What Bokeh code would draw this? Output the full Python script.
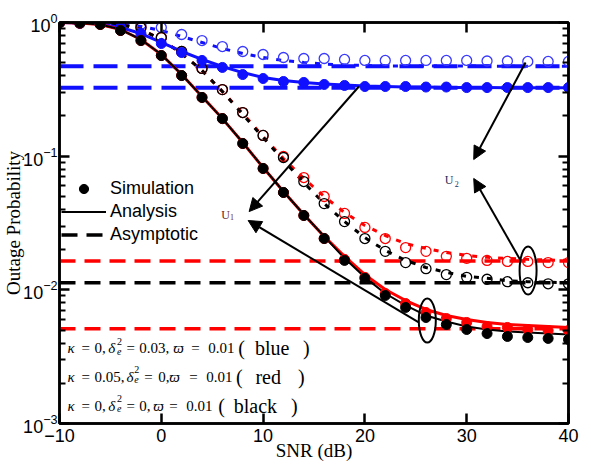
from bokeh.plotting import figure
from bokeh.models import (FixedTicker, LogAxis, LinearAxis, Label, Arrow, NormalHead,
                          Legend, LegendItem)
from bokeh.embed import file_html
from bokeh.resources import INLINE

# ---------------- data ----------------
snr = [-10, -8, -6, -4, -2, 0, 2, 4, 6, 8, 10, 12, 14, 16, 18, 20, 22, 24, 26, 28, 30, 32, 34, 36, 38, 40]

# blue (kappa=0, delta^2=0.03)
blue_sim_u1 = [1.0, 0.991, 0.983, 0.918, 0.827, 0.696, 0.596, 0.520, 0.461, 0.408, 0.381, 0.362, 0.356,
               0.344, 0.338, 0.332, 0.332, 0.332, 0.329, 0.329, 0.326, 0.326, 0.326, 0.326, 0.326, 0.326]
blue_ana_u1 = [1.0, 0.991, 0.974, 0.918, 0.827, 0.709, 0.607, 0.529, 0.469, 0.422, 0.388, 0.368, 0.356,
               0.347, 0.341, 0.335, 0.332, 0.329, 0.329, 0.326, 0.326, 0.326, 0.325, 0.325, 0.325, 0.325]
blue_sim_u2 = [1.0, 0.991, 0.983, 0.983, 0.966, 0.918, 0.813, 0.733, 0.661, 0.607, 0.576, 0.547, 0.538,
               0.538, 0.529, 0.520, 0.520, 0.520, 0.520, 0.520, 0.520, 0.515, 0.515, 0.511, 0.511, 0.511]
blue_ana_u2 = [1.0, 1.0, 0.991, 0.974, 0.934, 0.871, 0.786, 0.709, 0.639, 0.586, 0.547, 0.520, 0.502,
               0.489, 0.481, 0.477, 0.473, 0.473, 0.473, 0.473, 0.472, 0.472, 0.471, 0.471, 0.471, 0.471]

# red (kappa=0.05, delta^2=0)
red_sim_u1 = [1.0, 0.991, 0.966, 0.871, 0.733, 0.566, 0.401, 0.275, 0.191, 0.1244, 0.0809, 0.0535, 0.0360,
              0.0242, 0.0169, 0.0124, 0.00939, 0.00790, 0.00677, 0.00610, 0.00570, 0.00532, 0.00523,
              0.00505, 0.00496, 0.00496]
red_ana_u1 = [1.0, 0.991, 0.966, 0.886, 0.746, 0.576, 0.408, 0.279, 0.191, 0.1265, 0.0823, 0.0544, 0.0366,
              0.0251, 0.0178, 0.0130, 0.01006, 0.00832, 0.00713, 0.00643, 0.00600, 0.00570, 0.00550,
              0.00541, 0.00532, 0.00523]
red_sim_u2 = [1.0, 0.991, 0.983, 0.983, 0.918, 0.772, 0.607, 0.453, 0.315, 0.212, 0.143, 0.0994, 0.0692,
              0.0499, 0.0373, 0.0293, 0.0242, 0.0207, 0.0194, 0.0178, 0.0172, 0.0166, 0.0163, 0.0163,
              0.0160, 0.0160]
red_ana_u2 = [1.0, 0.991, 0.983, 0.966, 0.886, 0.746, 0.586, 0.437, 0.305, 0.209, 0.140, 0.0960, 0.0681,
              0.0499, 0.0379, 0.0303, 0.0255, 0.0222, 0.0204, 0.0190, 0.0181, 0.0175, 0.0172, 0.0169,
              0.0167, 0.0166]

# black (kappa=0, delta^2=0)
black_sim_u1 = [1.0, 0.991, 0.966, 0.871, 0.733, 0.566, 0.401, 0.275, 0.191, 0.1244, 0.0809, 0.0535, 0.0360,
                0.0242, 0.0166, 0.0122, 0.00907, 0.00738, 0.00621, 0.00550, 0.00505, 0.00471, 0.00448,
                0.00440, 0.00433, 0.00425]
black_ana_u1 = [1.0, 0.991, 0.966, 0.886, 0.746, 0.576, 0.408, 0.279, 0.191, 0.1265, 0.0823, 0.0544, 0.0366,
                0.0251, 0.0172, 0.0124, 0.00939, 0.00764, 0.00643, 0.00580, 0.00532, 0.00505, 0.00488,
                0.00480, 0.00471, 0.00463]
black_sim_u2 = [1.0, 0.991, 0.983, 0.983, 0.918, 0.772, 0.607, 0.453, 0.315, 0.212, 0.143, 0.0977, 0.0646,
                0.0442, 0.0324, 0.0242, 0.0194, 0.0160, 0.0144, 0.0130, 0.0124, 0.0120, 0.0115, 0.0113,
                0.0111, 0.0111]
black_ana_u2 = [1.0, 0.991, 0.983, 0.966, 0.886, 0.746, 0.586, 0.437, 0.305, 0.205, 0.138, 0.0928, 0.0635,
                0.0442, 0.0324, 0.0246, 0.0197, 0.0166, 0.0147, 0.0135, 0.0126, 0.0122, 0.0117, 0.0115,
                0.0114, 0.0113]

# asymptotes
asym_x = [-10, 40]
asym_blue_u2 = 0.471
asym_blue_u1 = 0.325
asym_red_u2 = 0.0164
asym_black_u2 = 0.0113
asym_red_u1 = 0.00511

x_ticks = [-10, 0, 10, 20, 30, 40]
y_ticks = [1e-3, 1e-2, 1e-1, 1.0]
y_minor = [m * 10.0 ** e for e in (-3, -2, -1) for m in range(2, 10)]

BLUE = "#1010ff"
RED = "#ff0000"
BLACK = "#000000"

# ---------------- figure ----------------
p = figure(width=591, height=466, y_axis_type="log", x_range=(-10, 40), y_range=(1e-3, 1.0),
           output_backend="svg", toolbar_location=None,
           min_border_left=58, min_border_right=23, min_border_top=22, min_border_bottom=43)
p.grid.visible = False
p.outline_line_color = "black"
p.outline_line_width = 2.5
p.background_fill_color = "white"
p.border_fill_color = "white"

def style_axis(ax, labels=True):
    ax.axis_line_width = 2.5
    ax.axis_line_color = "black"
    ax.major_tick_in = 10
    ax.major_tick_out = 0
    ax.major_tick_line_width = 2.5
    ax.minor_tick_in = 6
    ax.minor_tick_out = 0
    ax.minor_tick_line_width = 2
    ax.major_label_text_font = "Liberation Sans"
    if labels:
        ax.major_label_text_font_size = "18px"
        ax.major_label_text_color = "black"
    else:
        ax.major_label_text_font_size = "1px"
        ax.major_label_text_color = None
        ax.major_label_standoff = 0

xt = FixedTicker(ticks=x_ticks)
yt = FixedTicker(ticks=y_ticks, minor_ticks=y_minor)

p.xaxis.ticker = xt
p.yaxis.ticker = yt
for ax in p.xaxis:
    style_axis(ax)
    ax.minor_tick_line_color = None
    ax.major_label_standoff = 5
    ax.axis_label = "SNR (dB)"
    ax.axis_label_text_font = "Liberation Serif"
    ax.axis_label_text_font_size = "19px"
    ax.axis_label_text_font_style = "normal"
    ax.axis_label_text_color = "black"
    ax.axis_label_standoff = -5
for ax in p.yaxis:
    style_axis(ax)
    ax.major_label_standoff = 2
    ax.axis_label = "Outage Probability"
    ax.axis_label_text_font = "Liberation Serif"
    ax.axis_label_text_font_size = "19px"
    ax.axis_label_text_font_style = "normal"
    ax.axis_label_text_color = "black"
    ax.axis_label_standoff = -4

top = LinearAxis(ticker=FixedTicker(ticks=x_ticks))
style_axis(top, labels=False)
top.minor_tick_line_color = None
p.add_layout(top, "above")
right = LogAxis(ticker=FixedTicker(ticks=y_ticks, minor_ticks=y_minor))
style_axis(right, labels=False)
p.add_layout(right, "right")

# asymptotes
p.line(asym_x, [asym_blue_u2] * 2, line_color=BLUE, line_width=4, line_dash="24 10")
p.line(asym_x, [asym_blue_u1] * 2, line_color=BLUE, line_width=4, line_dash="24 10")
p.line(asym_x, [asym_red_u2] * 2, line_color=RED, line_width=3.5, line_dash="16 9")
p.line(asym_x, [asym_red_u1] * 2, line_color=RED, line_width=3.5, line_dash="16 9")
asym_black = p.line(asym_x, [asym_black_u2] * 2, line_color=BLACK, line_width=3.5, line_dash="16 9")

# analysis lines
p.line(snr, blue_ana_u2, line_color=BLUE, line_width=3, line_dash="5 8")
p.line(snr, red_ana_u2, line_color=RED, line_width=3, line_dash="5 8")
p.line(snr, black_ana_u2, line_color=BLACK, line_width=3, line_dash="5 8")
p.line(snr, blue_ana_u1, line_color=BLUE, line_width=3)
p.line(snr, red_ana_u1, line_color=RED, line_width=3)
ana_black = p.line(snr, black_ana_u1, line_color=BLACK, line_width=2)

# simulation markers
p.scatter(snr, blue_sim_u2, size=10, marker="circle", fill_color=None, line_color="#3a3aff", line_width=1.3)
p.scatter(snr, red_sim_u2, size=10, marker="circle", fill_color=None, line_color=RED, line_width=1.3)
p.scatter(snr, black_sim_u2, size=10, marker="circle", fill_color=None, line_color=BLACK, line_width=1.3)
p.scatter(snr, blue_sim_u1, size=10, marker="circle", fill_color=BLUE, line_color=BLUE)
p.scatter(snr, red_sim_u1, size=10, marker="circle", fill_color=RED, line_color=RED)
sim_black = p.scatter(snr, black_sim_u1, size=10, marker="circle", fill_color=BLACK, line_color=BLACK)

# ellipses marking U1 / U2 groups
p.ellipse(x=[26.13, 36.03], y=[0.0059, 0.01395], width=17, height=[44, 48],
          width_units="screen", height_units="screen",
          fill_color=None, line_color="black", line_width=2)

# arrows towards U1 and U2 labels
arrows = [
    (19.41, 0.332, 8.63, 0.0385),
    (25.29, 0.0057, 8.53, 0.0330),
    (35.78, 0.502, 30.69, 0.0944),
    (35.29, 0.01658, 30.69, 0.0681),
]
for xs, ys, xe, ye in arrows:
    p.add_layout(Arrow(end=NormalHead(size=13, fill_color="black", line_color="black", line_width=1),
                       x_start=xs, y_start=ys, x_end=xe, y_end=ye,
                       line_color="black", line_width=2))

# U labels
p.add_layout(Label(x=5.88, y=0.0360, text="U", text_font="Liberation Serif", text_font_size="12px",
                   text_color="#6b1e1e", text_baseline="alphabetic"))
p.add_layout(Label(x=6.76, y=0.0348, text="1", text_font="Liberation Serif", text_font_size="8px",
                   text_color="#6b1e1e", text_baseline="alphabetic"))
p.add_layout(Label(x=27.84, y=0.0669, text="U", text_font="Liberation Serif", text_font_size="12px",
                   text_color="#22305a", text_baseline="alphabetic"))
p.add_layout(Label(x=28.82, y=0.0624, text="2", text_font="Liberation Serif", text_font_size="8px",
                   text_color="#22305a", text_baseline="alphabetic"))

# parameter texts
def tok(x, y, text, italic=False, size="15px", align="left"):
    p.add_layout(Label(x=x, y=y, text=text, text_font="Liberation Serif", text_font_size=size,
                       text_font_style="italic" if italic else "normal", text_color="black",
                       text_baseline="alphabetic", text_align=align))

lines = [
    (0.003640, 0.003457, 0.004106,
     [(-9.22, "κ", True), (-7.84, "=", False), (-6.57, "0,", False), (-5.20, "δ", True),
      (-3.43, "=", False), (-2.16, "0.03,", False), (1.18, "ϖ", True), (2.94, "=", False),
      (4.61, "0.01", False), (7.55, "(", False), (13.92, ")", False)], -4.36, (10.90, "blue")),
    (0.002247, 0.002134, 0.002535,
     [(-9.22, "κ", True), (-7.84, "=", False), (-6.57, "0.05,", False), (-3.43, "δ", True),
      (-1.67, "=", False), (-0.29, "0,", False), (0.78, "ϖ", True), (2.75, "=", False),
      (4.41, "0.01", False), (7.35, "(", False), (13.43, ")", False)], -2.65, (10.50, "red")),
    (0.001363, 0.001295, 0.001538,
     [(-9.22, "κ", True), (-7.84, "=", False), (-6.57, "0,", False), (-5.20, "δ", True),
      (-3.43, "=", False), (-2.16, "0,", False), (-0.78, "ϖ", True), (0.78, "=", False),
      (2.45, "0.01", False), (5.59, "(", False), (12.75, ")", False)], -4.36, (9.25, "black")),
]
for yb, ysub, ysup, toks, xs, word in lines:
    for x, t, it in toks:
        tok(x, yb, t, it, "20px" if t in "()" else "15px")
    tok(xs, ysub, "e", True, "10px")
    tok(xs, ysup, "2", False, "10px")
    tok(word[0], yb, word[1], False, "20px", "center")

# legend
legend = Legend(items=[LegendItem(label="Simulation", renderers=[sim_black]),
                       LegendItem(label="Analysis", renderers=[ana_black]),
                       LegendItem(label="Asymptotic", renderers=[asym_black])],
                location=(2, 177), glyph_width=45, glyph_height=23, label_height=23,
                label_standoff=4, spacing=0, padding=0, margin=0,
                border_line_color=None, background_fill_alpha=0,
                label_text_font="Liberation Sans", label_text_font_size="18px",
                label_text_color="black")
p.add_layout(legend)

open("out.html", "w").write(file_html(p, INLINE))
